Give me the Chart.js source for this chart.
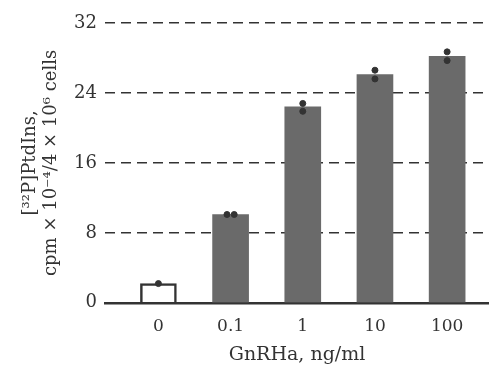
<!DOCTYPE html>
<html>
<head>
<meta charset="utf-8">
<script src="https://cdn.jsdelivr.net/npm/chart.js@4"></script>
<style>
  html, body { margin: 0; padding: 0; background: #fff; }
  #wrap { width: 489px; height: 366px; }
</style>
</head>
<body>
<div id="wrap"><canvas id="myChart"></canvas></div>
<script>
// doses along the x axis
var doses = ["0", "0.1", "1", "10", "100"]
// mean bar heights
var means = [2.2, 10.1, 22.4, 26.1, 28.2]
// individual points (dose index, value)
var pointDose = [0, 0.95, 1.05, 2, 2, 3, 3, 4, 4]
var pointValue = [2.2, 10.1, 10.1, 22.8, 21.9, 26.6, 25.6, 28.7, 27.7]
var yTicks = [0, 8, 16, 24, 32]

var ink = "#333"
var serif = "'DejaVu Serif', 'Liberation Serif', serif"

var bars = []
for (var i = 0; i < means.length; i++) {
    bars.push({x: i, y: means[i]})
}
var dots = []
for (var j = 0; j < pointValue.length; j++) {
    dots.push({x: pointDose[j], y: pointValue[j]})
}

var ctx = document.getElementById("myChart").getContext('2d')

var chart = new Chart(ctx, {
    type: 'bar',
    data: {
        datasets: [
            {
                type: 'scatter',
                data: dots,
                backgroundColor: ink,
                borderColor: ink,
                pointRadius: 3,
                order: 0
            },
            {
                data: bars,
                backgroundColor: means.map(function(v, k){ return k == 0 ? "#fff" : "#6a6a6a" }),
                borderColor: ink,
                borderWidth: means.map(function(v, k){ return k == 0 ? 2.5 : 0 }),
                barThickness: 36,
                order: 1
            }
        ]
    },
    options: {
        responsive: true,
        maintainAspectRatio: false,
        animation: false,
        layout: {autoPadding: false, padding: {left: 20, right: 0, top: 23, bottom: 0}},
        plugins: {legend: {display: false}, tooltip: {enabled: false}},
        scales: {
            x: {
                type: 'linear',
                offset: false,
                min: -0.74,
                max: 4.58,
                grid: {display: false},
                border: {display: true, color: ink, width: 2.5},
                afterBuildTicks: function(scale){
                    scale.ticks = doses.map(function(d, k){ return {value: k} })
                },
                afterFit: function(scale){
                    scale.paddingLeft = 0
                    scale.paddingRight = 0
                },
                ticks: {
                    color: ink,
                    font: {family: serif, size: 17},
                    padding: 6,
                    callback: function(v){ return doses[v] }
                },
                title: {
                    display: true,
                    text: "GnRHa, ng/ml",
                    color: ink,
                    font: {family: serif, size: 19},
                    padding: {top: 0, bottom: 0}
                }
            },
            y: {
                min: 0,
                max: 32,
                afterFit: function(scale){ scale.width = 85 },
                afterBuildTicks: function(scale){
                    scale.ticks = yTicks.map(function(t){ return {value: t} })
                },
                grid: {
                    color: function(c){ return c.tick && c.tick.value == 0 ? "rgba(0,0,0,0)" : ink },
                    lineWidth: 1.5,
                    drawTicks: false
                },
                border: {display: false, dash: [10, 6]},
                ticks: {
                    color: ink,
                    font: {family: serif, size: 18},
                    padding: 8
                },
                title: {
                    display: true,
                    text: ["[³²P]PtdIns,", "cpm × 10⁻⁴/4 × 10⁶ cells"],
                    color: ink,
                    font: {family: serif, size: 18, lineHeight: 1.15},
                    padding: {top: 0, bottom: 8}
                }
            }
        }
    }
})
</script>
</body>
</html>
